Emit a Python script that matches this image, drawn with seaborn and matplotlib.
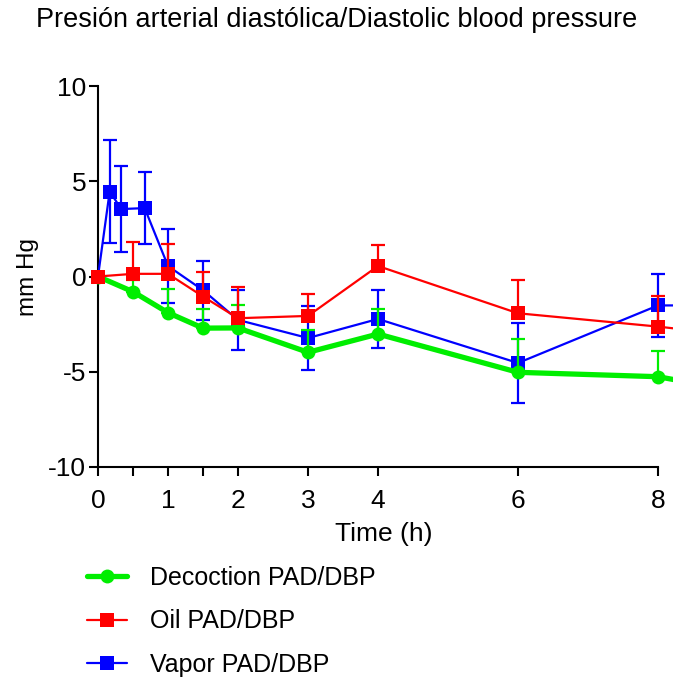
import numpy as np
import pandas as pd
import matplotlib
matplotlib.use("Agg")
import matplotlib.pyplot as plt
import seaborn as sns

# ---- data ----
title = "Presión arterial diastólica/Diastolic blood pressure"
x_ticks = [0, 1, 2, 3, 4, 6, 8]
x_minor = [0.5, 1.5]
y_ticks = [-10, -5, 0, 5, 10]

dec_time = [0, 0.5, 1, 1.5, 2, 3, 4, 6, 8, 10]
dec_mean = [0, -0.8, -1.9, -2.71, -2.7, -3.98, -3.02, -5.03, -5.26, -6.6]
dec_err = [0, 0.6, 1.24, 1.0, 1.2, 1.18, 1.33, 1.75, 1.36, 0]

oil_time = [0, 0.5, 1, 1.5, 2, 3, 4, 6, 8, 10]
oil_mean = [0, 0.14, 0.14, -1.05, -2.19, -2.07, 0.55, -1.93, -2.63, -3.46]
oil_err = [0, 1.66, 1.56, 1.26, 1.62, 1.15, 1.09, 1.73, 1.62, 0]

vap_time = [0, 1/6, 1/3, 2/3, 1, 1.5, 2, 3, 4, 6, 8, 10]
vap_mean = [0, 4.46, 3.54, 3.59, 0.55, -0.72, -2.28, -3.23, -2.23, -4.54, -1.52, -1.5]
vap_err = [0, 2.68, 2.24, 1.88, 1.95, 1.54, 1.58, 1.68, 1.52, 2.08, 1.67, 0]

labels = ["Decoction PAD/DBP", "Oil PAD/DBP", "Vapor PAD/DBP"]
colors = ["#00ee00", "#ff0000", "#0000ff"]

sns.set_style("white")
plt.rcParams["font.family"] = ["Liberation Sans", "DejaVu Sans"]
plt.rcParams["axes.unicode_minus"] = False
plt.rcParams["text.color"] = "black"
plt.rcParams["axes.labelcolor"] = "black"
plt.rcParams["xtick.color"] = "black"
plt.rcParams["ytick.color"] = "black"

W, H = 673, 677
fig = plt.figure(figsize=(W / 100, H / 100), dpi=100)
ax = fig.add_axes([88 / W, 1 - 467 / H, (W - 88) / W, 381 / H])

dec = pd.DataFrame({"t": dec_time, "v": dec_mean, "e": dec_err})
oil = pd.DataFrame({"t": oil_time, "v": oil_mean, "e": oil_err})
vap = pd.DataFrame({"t": vap_time, "v": vap_mean, "e": vap_err})

# Vapor (bottom), both-direction error bars
ax.errorbar(vap["t"], vap["v"], yerr=[vap["e"], vap["e"]], fmt="none",
            ecolor=colors[2], elinewidth=1.6, capsize=5, capthick=1.6, zorder=2)
sns.lineplot(data=vap, x="t", y="v", ax=ax, color=colors[2], lw=1.6,
             marker="s", markersize=9.5, markeredgewidth=0, label=labels[2],
             zorder=3)

# Decoction, upper error bars
ax.errorbar(dec["t"], dec["v"], yerr=[np.zeros(len(dec)), dec["e"]], fmt="none",
            ecolor=colors[0], elinewidth=1.6, capsize=5, capthick=1.6, zorder=4)
sns.lineplot(data=dec, x="t", y="v", ax=ax, color=colors[0], lw=3.8,
             marker="o", markersize=10, markeredgewidth=0, label=labels[0],
             zorder=5)

# Oil (top), upper error bars
ax.errorbar(oil["t"], oil["v"], yerr=[np.zeros(len(oil)), oil["e"]], fmt="none",
            ecolor=colors[1], elinewidth=1.6, capsize=5, capthick=1.6, zorder=6)
sns.lineplot(data=oil, x="t", y="v", ax=ax, color=colors[1], lw=1.6,
             marker="s", markersize=9.5, markeredgewidth=0, label=labels[1],
             zorder=7)

ax.set_xlim(-10 / 70, 8 + 15 / 70)
ax.set_ylim(-10, 10)
for s in ["top", "right"]:
    ax.spines[s].set_visible(False)
ax.spines["left"].set_position(("data", 0))
ax.spines["bottom"].set_bounds(0, 8)
for s in ["left", "bottom"]:
    ax.spines[s].set_linewidth(1.5)
    ax.spines[s].set_color("black")

ax.set_xticks(x_ticks)
ax.set_xticks(x_minor, minor=True)
ax.set_yticks(y_ticks)
ax.tick_params(axis="both", which="both", direction="out", length=6.5, width=1.5,
               color="black", labelsize=19, left=True, bottom=True)
ax.tick_params(axis="x", pad=9)
ax.tick_params(axis="y", pad=2)

ax.set_xlabel("Time (h)", fontsize=19)
ax.set_ylabel("mm Hg", fontsize=17.5)
ax.xaxis.set_label_coords((384 - 88) / 585, (467 - 522) / 381)
ax.yaxis.set_label_coords((39 - 88) / 585, 0.5)

fig.text(337 / W, 1 - 20 / H, title, ha="center", va="center", fontsize=19.5)

handles, labs = ax.get_legend_handles_labels()
order = [labs.index(l) for l in labels]
ax.get_legend().remove()
fig.legend([handles[i] for i in order], [labs[i] for i in order],
           loc="upper left", bbox_to_anchor=(87 / W, 1 - 566 / H),
           frameon=False, fontsize=18, handlelength=1.6, handletextpad=0.9,
           labelspacing=0.78, borderpad=0, borderaxespad=0)

fig.savefig("out.png", dpi=100)
